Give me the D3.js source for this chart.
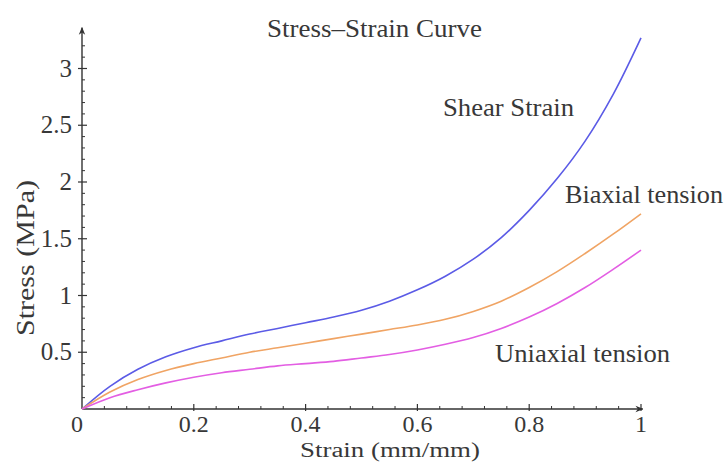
<!DOCTYPE html>
<html>
<head>
<meta charset="utf-8">
<script src="https://cdn.jsdelivr.net/npm/d3@7/dist/d3.min.js"></script>
<style>
  html, body { margin: 0; padding: 0; background: #ffffff; }
  svg { display: block; }
  text { font-family: "Liberation Serif", "DejaVu Serif", serif; fill: #383838; }
</style>
</head>
<body>
<script>
// Strain samples (mm/mm)
const strain = [0, 0.05, 0.1, 0.15, 0.2, 0.25, 0.3, 0.35, 0.4, 0.45, 0.5,
                0.55, 0.6, 0.65, 0.7, 0.75, 0.8, 0.85, 0.9, 0.95, 1.0];
// Stress (MPa) for each loading mode
const shearStress    = [0, 0.20, 0.35, 0.46, 0.54, 0.60, 0.66, 0.71, 0.76, 0.81, 0.87,
                        0.95, 1.05, 1.17, 1.32, 1.51, 1.75, 2.03, 2.36, 2.77, 3.27];
const biaxialStress  = [0, 0.15, 0.26, 0.34, 0.40, 0.45, 0.50, 0.54, 0.58, 0.62, 0.66,
                        0.70, 0.74, 0.79, 0.86, 0.95, 1.07, 1.21, 1.37, 1.54, 1.72];
const uniaxialStress = [0, 0.10, 0.17, 0.23, 0.28, 0.32, 0.35, 0.38, 0.40, 0.42, 0.45,
                        0.48, 0.52, 0.57, 0.63, 0.71, 0.81, 0.93, 1.07, 1.23, 1.40];
const seriesNames  = ["Shear Strain", "Biaxial tension", "Uniaxial tension"];
const xTickLabels  = ["0", "0.2", "0.4", "0.6", "0.8", "1"];
const yTickLabels  = ["0.5", "1", "1.5", "2", "2.5", "3"];

const W = 727, H = 462;
const svg = d3.select("body").append("svg").attr("width", W).attr("height", H);

const x = d3.scaleLinear().domain([0, 1]).range([82, 641]);
const y = d3.scaleLinear().domain([0, 3]).range([409, 68.5]);

const axisColor = "#333";

// Axis lines with arrowheads
svg.append("defs").append("marker")
  .attr("id", "arrow").attr("viewBox", "0 0 10 10")
  .attr("refX", 9).attr("refY", 5)
  .attr("markerWidth", 8).attr("markerHeight", 8)
  .attr("markerUnits", "userSpaceOnUse")
  .attr("orient", "auto")
  .append("path").attr("d", "M0,1 L10,5 L0,9 L3,5 Z").attr("fill", axisColor);

svg.append("line")
  .attr("x1", x(0)).attr("y1", y(0)).attr("x2", x(1.003)).attr("y2", y(0))
  .attr("stroke", axisColor).attr("stroke-width", 1.4).attr("marker-end", "url(#arrow)");
svg.append("line")
  .attr("x1", x(0)).attr("y1", y(0)).attr("x2", x(0)).attr("y2", y(3.36))
  .attr("stroke", axisColor).attr("stroke-width", 1.4).attr("marker-end", "url(#arrow)");

// Minor ticks
const xMinor = d3.range(1, 25).map(i => i * 0.04).filter(v => Math.abs(v * 5 - Math.round(v * 5)) > 1e-6);
const yMinor = d3.range(1, 33).map(i => i * 0.1).filter(v => Math.abs(v * 2 - Math.round(v * 2)) > 1e-6);

svg.append("g").selectAll("line").data(xMinor).join("line")
  .attr("x1", d => x(d)).attr("x2", d => x(d))
  .attr("y1", y(0)).attr("y2", y(0) - 3)
  .attr("stroke", axisColor).attr("stroke-width", 1);
svg.append("g").selectAll("line").data(yMinor).join("line")
  .attr("y1", d => y(d)).attr("y2", d => y(d))
  .attr("x1", x(0)).attr("x2", x(0) + 3)
  .attr("stroke", axisColor).attr("stroke-width", 1);

// Major ticks and labels
const xMajor = xTickLabels.map(Number);
const yMajor = yTickLabels.map(Number);

svg.append("g").selectAll("line").data(xMajor.slice(1)).join("line")
  .attr("x1", d => x(d)).attr("x2", d => x(d))
  .attr("y1", y(0) + 2).attr("y2", y(0) - 5)
  .attr("stroke", axisColor).attr("stroke-width", 1.2);
svg.append("g").selectAll("line").data(yMajor).join("line")
  .attr("y1", d => y(d)).attr("y2", d => y(d))
  .attr("x1", x(0) - 4).attr("x2", x(0) + 5)
  .attr("stroke", axisColor).attr("stroke-width", 1.2);

svg.append("g").selectAll("text").data(xTickLabels).join("text")
  .attr("x", (d, i) => i === 0 ? x(0) - 5 : x(xMajor[i]))
  .attr("y", 432)
  .attr("text-anchor", "middle")
  .attr("font-size", 24)
  .text(d => d);

svg.append("g").selectAll("text").data(yTickLabels).join("text")
  .attr("x", 72)
  .attr("y", (d, i) => y(yMajor[i]) + 8)
  .attr("text-anchor", "end")
  .attr("font-size", 25)
  .text(d => d);

// Axis titles and chart title
svg.append("text")
  .attr("x", 390).attr("y", 457)
  .attr("text-anchor", "middle").attr("font-size", 20)
  .attr("textLength", 180).attr("lengthAdjust", "spacingAndGlyphs")
  .text("Strain (mm/mm)");

svg.append("text")
  .attr("transform", "translate(34,258) rotate(-90)")
  .attr("text-anchor", "middle").attr("font-size", 26)
  .attr("textLength", 156).attr("lengthAdjust", "spacingAndGlyphs")
  .text("Stress (MPa)");

svg.append("text")
  .attr("x", 374.5).attr("y", 37)
  .attr("text-anchor", "middle").attr("font-size", 25)
  .attr("textLength", 215).attr("lengthAdjust", "spacingAndGlyphs")
  .text("Stress\u2013Strain Curve");

// Curves
const series = [
  { values: shearStress,    color: "#5b5be6" },
  { values: biaxialStress,  color: "#f0a464" },
  { values: uniaxialStress, color: "#e35ee3" }
];

const line = d3.line()
  .x((d, i) => x(strain[i]))
  .y(d => y(d))
  .curve(d3.curveCatmullRom.alpha(0.5));

svg.append("g").selectAll("path").data(series).join("path")
  .attr("d", d => line(d.values))
  .attr("fill", "none")
  .attr("stroke", d => d.color)
  .attr("stroke-width", 1.6);

// Curve annotations
const labelPos = [
  { x: 443, y: 116, w: 131 },
  { x: 565, y: 203, w: 158 },
  { x: 495, y: 362, w: 175 }
];
svg.append("g").selectAll("text").data(seriesNames).join("text")
  .attr("x", (d, i) => labelPos[i].x)
  .attr("y", (d, i) => labelPos[i].y)
  .attr("font-size", 25)
  .attr("textLength", (d, i) => labelPos[i].w)
  .attr("lengthAdjust", "spacingAndGlyphs")
  .text(d => d);
</script>
</body>
</html>
